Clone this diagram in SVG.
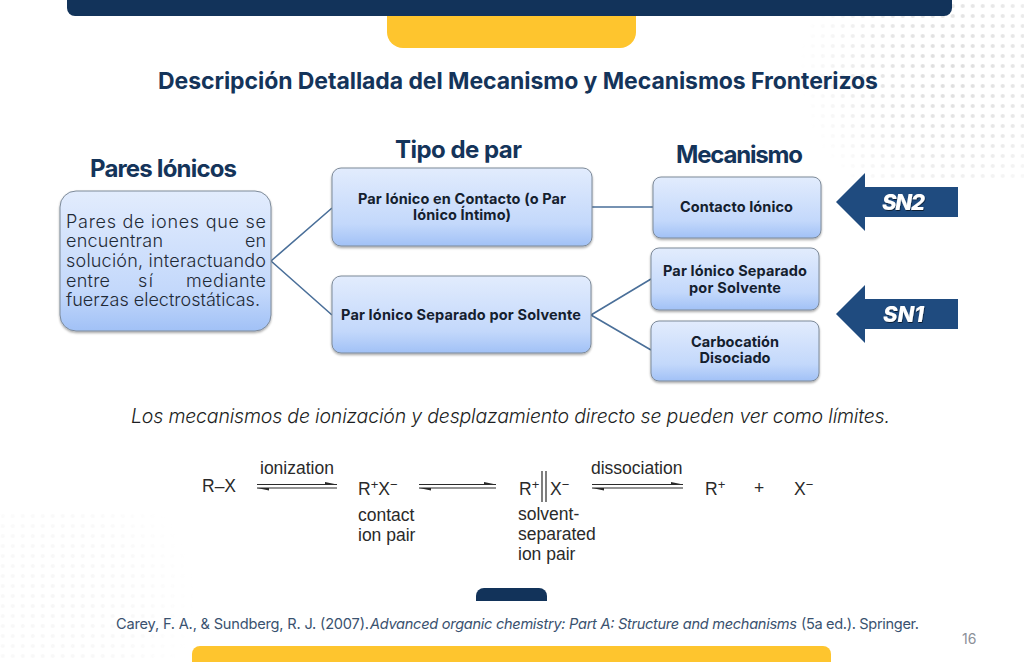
<svg xmlns="http://www.w3.org/2000/svg" width="1024" height="662" viewBox="0 0 1024 662">
<style>
text{font-family:"Inter","Noto Sans",sans-serif}
.nav{fill:#12335a}.yel{fill:#fec52e}
.box{fill:url(#boxg);stroke:#7d8a99;stroke-width:1;filter:url(#sh)}
.lbl{font-size:14.5px;font-weight:700;fill:#14202e;text-anchor:middle}
.head{font-weight:700;fill:#14345a;font-size:24px}
.body{font-size:18px;font-weight:300;fill:#1f2a36}
.conn{stroke:#4a6f99;stroke-width:1.6;fill:none}
.ar{fill:#1f4b7f}
.sn{font-size:22px;font-weight:800;font-style:italic;fill:#fff}
.ch{font-family:"Liberation Sans",Arial,sans-serif;font-size:17.5px;fill:#2a2a2a}
.sup{font-size:13px}
.eq{stroke:#2a2a2a;stroke-width:1.2;fill:none}
.barb{fill:#2a2a2a}
.cit{font-size:14.6px;font-weight:400;fill:#3a526f}
</style>
<defs>
<linearGradient id="boxg" x1="0" y1="0" x2="0" y2="1"><stop offset="0" stop-color="#e2ecfd"/><stop offset=".72" stop-color="#c3d8fb"/><stop offset="1" stop-color="#a1c1f6"/></linearGradient>
<filter id="sh" x="-5%" y="-5%" width="110%" height="115%"><feDropShadow dx="0" dy="1.5" stdDeviation="1.2" flood-color="#000" flood-opacity=".35"/></filter>
<filter id="ts" x="-10%" y="-10%" width="120%" height="130%"><feDropShadow dx="0.6" dy="1" stdDeviation="0.4" flood-color="#000" flood-opacity=".6"/></filter>
<pattern id="dots" x="2.7" y="6" width="10" height="10" patternUnits="userSpaceOnUse"><circle cx="0" cy="0" r="2.1" fill="#dcdcdc"/><circle cx="10" cy="0" r="2.1" fill="#dcdcdc"/><circle cx="0" cy="10" r="2.1" fill="#dcdcdc"/><circle cx="10" cy="10" r="2.1" fill="#dcdcdc"/></pattern>
<radialGradient id="f1" gradientUnits="userSpaceOnUse" cx="950" cy="70" r="150"><stop offset="0" stop-color="#fff"/><stop offset=".55" stop-color="#aaa"/><stop offset="1" stop-color="#000"/></radialGradient>
<radialGradient id="f2" gradientUnits="userSpaceOnUse" cx="60" cy="600" r="135"><stop offset="0" stop-color="#444"/><stop offset=".6" stop-color="#2c2c2c"/><stop offset="1" stop-color="#000"/></radialGradient>
<mask id="m1"><rect x="800" y="0" width="224" height="180" fill="url(#f1)"/></mask>
<mask id="m2"><rect x="0" y="510" width="200" height="152" fill="url(#f2)"/></mask>
</defs>
<rect width="1024" height="662" fill="#fff"/>
<g id="bg-dots">
<rect x="800" y="0" width="224" height="180" fill="url(#dots)" mask="url(#m1)"/>
<rect x="0" y="510" width="200" height="152" fill="url(#dots)" mask="url(#m2)"/>
</g>
<g id="frame">
<path class="yel" d="M387 10H636V32a16 16 0 0 1-16 16H403a16 16 0 0 1-16-16Z"/>
<path class="nav" d="M67 0H952V8a8 8 0 0 1-8 8H75a8 8 0 0 1-8-8Z"/>
<path class="nav" d="M476 601V596a8 8 0 0 1 8-8H539a8 8 0 0 1 8 8V601Z"/>
<path class="yel" d="M192 662V654a8 8 0 0 1 8-8H823a8 8 0 0 1 8 8V662Z"/>
</g>
<text id="title" x="158" y="89" font-size="23" font-weight="700" fill="#14345a" textLength="720">Descripción Detallada del Mecanismo y Mecanismos Fronterizos</text>
<text class="head" x="90" y="177" textLength="147">Pares Iónicos</text>
<text class="head" x="395" y="158" textLength="127">Tipo de par</text>
<text class="head" x="676" y="163" textLength="127">Mecanismo</text>
<g id="connectors">
<path class="conn" d="M271 261L332 208M271 261L332 315M592 207H653M591 315L651 279M591 315L651 350"/>
</g>
<g id="node-pares">
<rect class="box" x="60" y="191" width="211" height="140" rx="16"/>
<text class="body"><tspan x="66" y="228" textLength="200">Pares de iones que se</tspan><tspan x="66" y="247" textLength="97">encuentran</tspan><tspan x="245" y="247" textLength="21">en</tspan><tspan x="66" y="267" textLength="200">solución, interactuando</tspan><tspan x="66" y="287" textLength="44">entre</tspan><tspan x="138" y="287" textLength="15">sí</tspan><tspan x="186" y="287" textLength="80">mediante</tspan><tspan x="66" y="306" textLength="194">fuerzas electrostáticas.</tspan></text>
</g>
<g id="node-contacto">
<rect class="box" x="332" y="168" width="260" height="78" rx="9"/>
<text class="lbl"><tspan x="462" y="204" textLength="208">Par Iónico en Contacto (o Par</tspan><tspan x="462" y="220" textLength="98">Iónico Íntimo)</tspan></text>
</g>
<g id="node-separado">
<rect class="box" x="332" y="276" width="259" height="77" rx="9"/>
<text class="lbl" x="461" y="320" textLength="240">Par Iónico Separado por Solvente</text>
</g>
<g id="node-contacto-ionico">
<rect class="box" x="653" y="177" width="168" height="61" rx="8"/>
<text class="lbl" x="736.500" y="212" textLength="113">Contacto Iónico</text>
</g>
<g id="node-par-separado">
<rect class="box" x="651" y="248" width="168" height="62" rx="8"/>
<text class="lbl"><tspan x="735" y="276" textLength="144">Par Iónico Separado</tspan><tspan x="735" y="293" textLength="92">por Solvente</tspan></text>
</g>
<g id="node-carbocation">
<rect class="box" x="651" y="321" width="168" height="60" rx="8"/>
<text class="lbl"><tspan x="735" y="347" textLength="88">Carbocatión</tspan><tspan x="735" y="363" textLength="71">Disociado</tspan></text>
</g>
<g id="arrow-sn2">
<path class="ar" d="M836 202L865 173V187H958V217H865V231Z"/>
<text class="sn" x="882" y="210" textLength="43" filter="url(#ts)">SN2</text>
</g>
<g id="arrow-sn1">
<path class="ar" d="M836 314L865 285V299H958V329H865V343Z"/>
<text class="sn" x="883" y="322" textLength="41" filter="url(#ts)">SN1</text>
</g>
<text id="limit" x="131" y="423" font-size="19.5" font-style="italic" font-weight="300" fill="#1c1e22" textLength="759">Los mecanismos de ionización y desplazamiento directo se pueden ver como límites.</text>
<g id="equilibrium">
<text class="ch" x="202" y="492">R–X</text>
<text class="ch" x="260" y="474">ionization</text>
<path class="eq" d="M257 484.500H337M257 488H337M419 484.500H496M419 488H496M592 484.500H683M592 488H683"/>
<path class="barb" d="M337 484.500L325 482V484.500ZM257 488L269 490.500V488ZM496 484.500L484 482V484.500ZM419 488L431 490.500V488ZM683 484.500L671 482V484.500ZM592 488L604 490.500V488Z"/>
<text class="ch" x="358" y="495">R<tspan class="sup" dy="-6">+</tspan><tspan dy="6">X</tspan><tspan class="sup" dy="-6">−</tspan></text>
<text class="ch"><tspan x="358" y="521">contact</tspan><tspan x="358" y="541">ion pair</tspan></text>
<text class="ch" x="519" y="495">R<tspan class="sup" dy="-6">+</tspan></text>
<path class="eq" d="M542 471V502M546 471V502"/>
<text class="ch" x="550" y="495">X<tspan class="sup" dy="-6">−</tspan></text>
<text class="ch"><tspan x="518" y="520">solvent-</tspan><tspan x="518" y="540">separated</tspan><tspan x="518" y="560">ion pair</tspan></text>
<text class="ch" x="591" y="474">dissociation</text>
<text class="ch" x="705" y="495">R<tspan class="sup" dy="-6">+</tspan></text>
<text class="ch" x="754" y="494">+</text>
<text class="ch" x="794" y="495">X<tspan class="sup" dy="-6">−</tspan></text>
</g>
<text id="citation" class="cit" y="629"><tspan x="116" textLength="253">Carey, F. A., &amp; Sundberg, R. J. (2007).</tspan> <tspan x="370" font-style="italic" textLength="427">Advanced organic chemistry: Part A: Structure and mechanisms</tspan> <tspan x="801" textLength="118">(5a ed.). Springer.</tspan></text>
<text id="page" x="962" y="644" font-size="14" fill="#8b9098">16</text>
</svg>
